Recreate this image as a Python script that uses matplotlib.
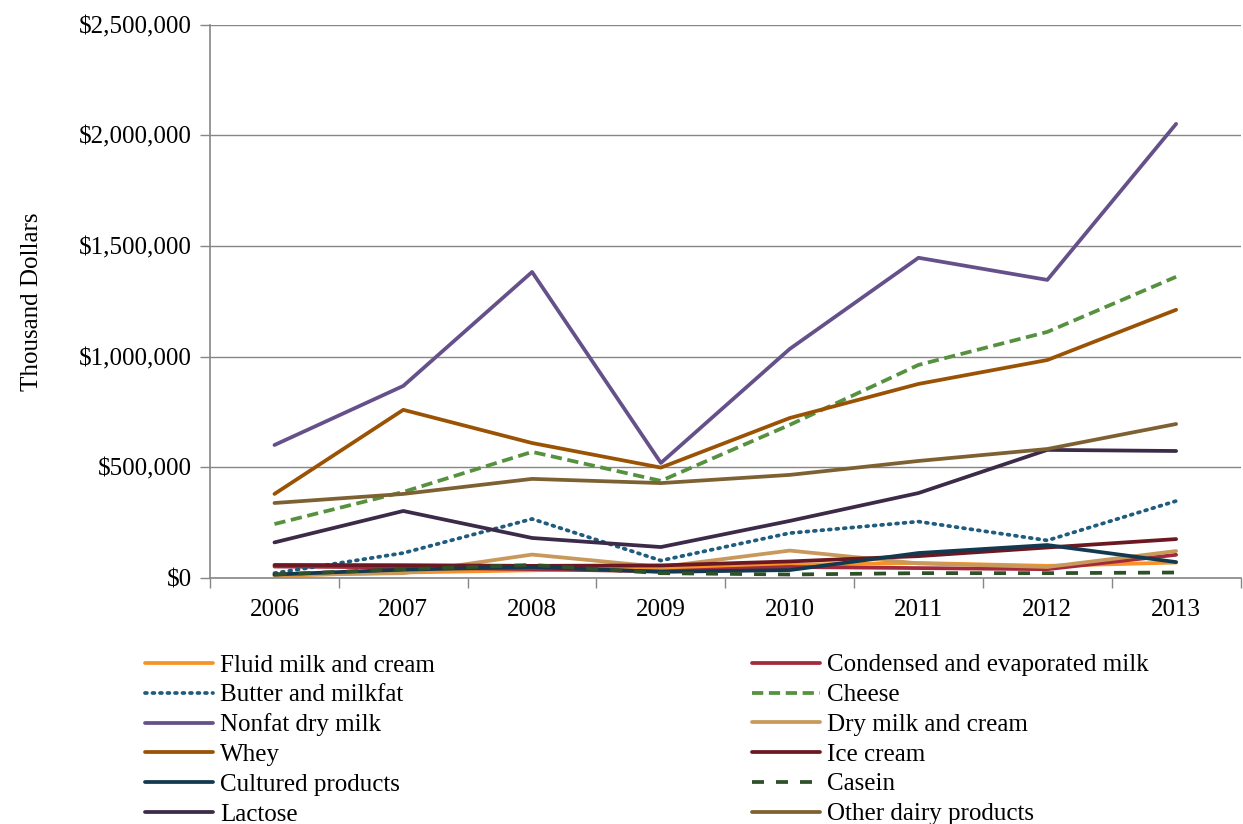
import matplotlib.pyplot as plt
import matplotlib.ticker as mticker

years = ["2006", "2007", "2008", "2009", "2010", "2011", "2012", "2013"]

# values in thousand dollars
fluid_milk = [10000, 25000, 35000, 45000, 60000, 68000, 55000, 70000]
condensed_milk = [52000, 48000, 40000, 30000, 50000, 45000, 40000, 105000]
butter = [22000, 113000, 267000, 79000, 203000, 255000, 170000, 348000]
cheese = [244000, 389000, 570000, 439000, 692000, 963000, 1112000, 1361000]
nonfat_dry_milk = [601000, 868000, 1383000, 520000, 1035000, 1447000, 1347000, 2052000]
dry_milk_cream = [14000, 22000, 106000, 50000, 124000, 66000, 50000, 122000]
whey = [380000, 760000, 610000, 499000, 723000, 877000, 985000, 1212000]
ice_cream = [59000, 58000, 55000, 57000, 75000, 99000, 138000, 176000]
cultured = [16000, 38000, 50000, 28000, 36000, 113000, 149000, 72000]
casein = [16000, 40000, 59000, 22000, 16000, 22000, 22000, 25000]
lactose = [161000, 303000, 181000, 140000, 258000, 384000, 579000, 574000]
other_dairy = [339000, 380000, 448000, 429000, 466000, 529000, 583000, 696000]

labels = ["Fluid milk and cream", "Condensed and evaporated milk", "Butter and milkfat",
          "Cheese", "Nonfat dry milk", "Dry milk and cream", "Whey", "Ice cream",
          "Cultured products", "Casein", "Lactose", "Other dairy products"]
series = [fluid_milk, condensed_milk, butter, cheese, nonfat_dry_milk, dry_milk_cream,
          whey, ice_cream, cultured, casein, lactose, other_dairy]
colors = ["#F79226", "#A32A3A", "#1F5C7E", "#56913F", "#65508A", "#C8995B",
          "#9A5305", "#6B1822", "#12394F", "#2F5129", "#3C2B48", "#7D6132"]
styles = ["-", "-", (0, (0.5, 1.5)), (0, (3.0, 1.5)), "-", "-",
          "-", "-", "-", (0, (3.2, 3.2)), "-", "-"]

plt.rcParams["font.family"] = ["Liberation Serif", "DejaVu Serif"]

fig = plt.figure(figsize=(12.43, 8.24), dpi=100)
ax = fig.add_axes([0.169, 0.2985, 0.829, 0.6715])

x = list(range(len(years)))
handles = []
for vals, lab, c, ls in zip(series, labels, colors, styles):
    capstyle = "round" if lab == "Butter and milkfat" else "butt"
    h, = ax.plot(x, vals, color=c, linestyle=ls, linewidth=2.7, label=lab,
                 dash_capstyle=capstyle, solid_capstyle="round")
    handles.append(h)

ax.set_xlim(-0.5, 7.5)
ax.set_ylim(0, 2500000)
ax.set_yticks([0, 500000, 1000000, 1500000, 2000000, 2500000])
ax.yaxis.set_major_formatter(mticker.FuncFormatter(lambda v, p: "${:,.0f}".format(v)))
ax.set_xticks(x)
ax.set_xticklabels(years)
ax.set_xticks([i - 0.5 for i in range(len(years) + 1)], minor=True)
ax.tick_params(axis="x", which="major", length=0, pad=15, labelsize=18)
ax.tick_params(axis="x", which="minor", length=7, color="#868686", width=1)
ax.tick_params(axis="y", length=7, color="#868686", width=1, pad=6, labelsize=18)

ax.grid(axis="y", color="#868686", linewidth=1)
ax.set_axisbelow(True)
for s in ["top", "right"]:
    ax.spines[s].set_visible(False)
for s in ["left", "bottom"]:
    ax.spines[s].set_color("#868686")
    ax.spines[s].set_linewidth(1.2)

ax.set_ylabel("Thousand Dollars", fontsize=18, labelpad=26)

# two legend columns, filled row by row like the original
leg_kw = dict(frameon=False, fontsize=18, handlelength=2.7, handletextpad=0.3,
              labelspacing=0.29, borderaxespad=0, borderpad=0)
leg1 = fig.legend(handles[0::2], labels[0::2], loc="upper left",
                  bbox_to_anchor=(145 / 1243, 1 - 654 / 824), **leg_kw)
leg2 = fig.legend(handles[1::2], labels[1::2], loc="upper left",
                  bbox_to_anchor=(752 / 1243, 1 - 654 / 824), **leg_kw)

fig.savefig("out.png", dpi=100)
